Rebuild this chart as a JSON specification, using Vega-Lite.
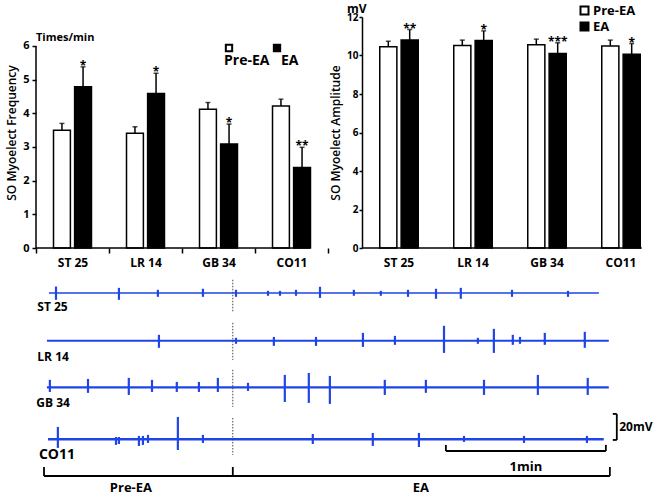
{
  "$schema": "https://vega.github.io/schema/vega-lite/v6.json",
  "padding": {"left": 5, "top": 3, "right": 5, "bottom": 5},
  "background": "white",
  "config": {
    "view": {"stroke": null},
    "font": "Open Sans",
    "axis": {
      "labelFont": "Open Sans", "labelFontWeight": "bold", "labelColor": "black", "labelOverlap": false,
      "titleFont": "Open Sans", "titleFontWeight": 600, "titleColor": "black", "titleFontSize": 12,
      "domainColor": "black", "tickColor": "black", "domainWidth": 1.5, "tickWidth": 1.5, "grid": false
    },
    "legend": {"labelFont": "Open Sans", "labelFontWeight": "bold", "labelColor": "black"}
  },
  "datasets": {
    "freq": [
      {"site": "ST 25", "group": "Pre-EA", "value": 3.5, "upper": 3.7, "star": ""},
      {"site": "ST 25", "group": "EA", "value": 4.79, "upper": 5.38, "star": "*"},
      {"site": "LR 14", "group": "Pre-EA", "value": 3.41, "upper": 3.6, "star": ""},
      {"site": "LR 14", "group": "EA", "value": 4.59, "upper": 5.19, "star": "*"},
      {"site": "GB 34", "group": "Pre-EA", "value": 4.12, "upper": 4.32, "star": ""},
      {"site": "GB 34", "group": "EA", "value": 3.09, "upper": 3.68, "star": "*"},
      {"site": "CO11", "group": "Pre-EA", "value": 4.22, "upper": 4.42, "star": ""},
      {"site": "CO11", "group": "EA", "value": 2.39, "upper": 2.99, "star": "**"}
    ],
    "amp": [
      {"site": "ST 25", "group": "Pre-EA", "value": 10.45, "upper": 10.74, "star": ""},
      {"site": "ST 25", "group": "EA", "value": 10.81, "upper": 11.35, "star": "**"},
      {"site": "LR 14", "group": "Pre-EA", "value": 10.52, "upper": 10.8, "star": ""},
      {"site": "LR 14", "group": "EA", "value": 10.78, "upper": 11.28, "star": "*"},
      {"site": "GB 34", "group": "Pre-EA", "value": 10.56, "upper": 10.85, "star": ""},
      {"site": "GB 34", "group": "EA", "value": 10.1, "upper": 10.66, "star": "***"},
      {"site": "CO11", "group": "Pre-EA", "value": 10.5, "upper": 10.8, "star": ""},
      {"site": "CO11", "group": "EA", "value": 10.07, "upper": 10.62, "star": "*"}
    ],
    "base": [
      {"row": "ST 25", "t0": 0.75, "t1": 207, "v": 155.2},
      {"row": "LR 14", "t0": 0, "t1": 210.7, "v": 118.5},
      {"row": "GB 34", "t0": 0, "t1": 210.7, "v": 82.8},
      {"row": "CO11", "t0": 0.4, "t1": 208.8, "v": 42.8}
    ],
    "spikes": [
      {"row": "ST 25", "t": 3.4, "hi": 160.2, "lo": 150},
      {"row": "ST 25", "t": 27, "hi": 159.2, "lo": 150},
      {"row": "ST 25", "t": 41.6, "hi": 157.7, "lo": 152.3},
      {"row": "ST 25", "t": 58.5, "hi": 158.5, "lo": 152.3},
      {"row": "ST 25", "t": 70.9, "hi": 157.7, "lo": 152.3},
      {"row": "ST 25", "t": 82.9, "hi": 156.9, "lo": 153.1},
      {"row": "ST 25", "t": 87.4, "hi": 156.9, "lo": 153.1},
      {"row": "ST 25", "t": 93.4, "hi": 157.7, "lo": 153.1},
      {"row": "ST 25", "t": 102.4, "hi": 160, "lo": 151.5},
      {"row": "ST 25", "t": 115.1, "hi": 157.7, "lo": 153.1},
      {"row": "ST 25", "t": 125.2, "hi": 156.9, "lo": 153.1},
      {"row": "ST 25", "t": 135.4, "hi": 157.7, "lo": 152.3},
      {"row": "ST 25", "t": 145.9, "hi": 158.5, "lo": 150.8},
      {"row": "ST 25", "t": 155.2, "hi": 159.2, "lo": 150.8},
      {"row": "ST 25", "t": 174.4, "hi": 157.7, "lo": 152.3},
      {"row": "ST 25", "t": 195.4, "hi": 156.9, "lo": 152.3},
      {"row": "LR 14", "t": 42, "hi": 123.1, "lo": 113.1},
      {"row": "LR 14", "t": 70.9, "hi": 120.8, "lo": 116.2},
      {"row": "LR 14", "t": 85.1, "hi": 121.5, "lo": 114.6},
      {"row": "LR 14", "t": 100.9, "hi": 121.5, "lo": 114.6},
      {"row": "LR 14", "t": 118.5, "hi": 124.6, "lo": 113.8},
      {"row": "LR 14", "t": 130.5, "hi": 122.3, "lo": 115.4},
      {"row": "LR 14", "t": 148.9, "hi": 130, "lo": 109.2},
      {"row": "LR 14", "t": 161.6, "hi": 120.8, "lo": 116.2},
      {"row": "LR 14", "t": 167.6, "hi": 127.7, "lo": 109.2},
      {"row": "LR 14", "t": 174.7, "hi": 123.1, "lo": 115.4},
      {"row": "LR 14", "t": 177.4, "hi": 121.5, "lo": 116.2},
      {"row": "LR 14", "t": 186.7, "hi": 124.6, "lo": 115.4},
      {"row": "LR 14", "t": 201.7, "hi": 125.4, "lo": 113.1},
      {"row": "GB 34", "t": 1.1, "hi": 88.5, "lo": 79.2},
      {"row": "GB 34", "t": 15.4, "hi": 89.2, "lo": 78.5},
      {"row": "GB 34", "t": 30.7, "hi": 90, "lo": 76.9},
      {"row": "GB 34", "t": 39.4, "hi": 88.5, "lo": 79.2},
      {"row": "GB 34", "t": 48.7, "hi": 86.9, "lo": 79.2},
      {"row": "GB 34", "t": 57, "hi": 86.9, "lo": 79.2},
      {"row": "GB 34", "t": 64.1, "hi": 90, "lo": 79.2},
      {"row": "GB 34", "t": 75.4, "hi": 86.2, "lo": 80},
      {"row": "GB 34", "t": 89.2, "hi": 92.3, "lo": 71.5},
      {"row": "GB 34", "t": 98.2, "hi": 93.8, "lo": 70.8},
      {"row": "GB 34", "t": 106.1, "hi": 91.5, "lo": 70},
      {"row": "GB 34", "t": 126.7, "hi": 88.5, "lo": 76.9},
      {"row": "GB 34", "t": 142.1, "hi": 88.5, "lo": 78.5},
      {"row": "GB 34", "t": 163.9, "hi": 88.5, "lo": 76.9},
      {"row": "GB 34", "t": 184.1, "hi": 92.3, "lo": 76.9},
      {"row": "GB 34", "t": 202.8, "hi": 90, "lo": 76.9},
      {"row": "CO11", "t": 4.1, "hi": 52.3, "lo": 36.2},
      {"row": "CO11", "t": 25.9, "hi": 44.6, "lo": 38.5},
      {"row": "CO11", "t": 27, "hi": 44.6, "lo": 39.2},
      {"row": "CO11", "t": 34.5, "hi": 45.4, "lo": 37.7},
      {"row": "CO11", "t": 36, "hi": 45.4, "lo": 38.5},
      {"row": "CO11", "t": 37.9, "hi": 46.2, "lo": 40},
      {"row": "CO11", "t": 49.1, "hi": 60, "lo": 34.6},
      {"row": "CO11", "t": 58.5, "hi": 46.2, "lo": 40},
      {"row": "CO11", "t": 99.7, "hi": 46.9, "lo": 39.2},
      {"row": "CO11", "t": 122.2, "hi": 47.7, "lo": 37.7},
      {"row": "CO11", "t": 139.5, "hi": 47.7, "lo": 36.9},
      {"row": "CO11", "t": 156.4, "hi": 45.4, "lo": 40.8},
      {"row": "CO11", "t": 178.9, "hi": 45.4, "lo": 40},
      {"row": "CO11", "t": 202.5, "hi": 45.4, "lo": 40}
    ],
    "dotted": [
      {"t": 69.7, "y1": 165.4, "y2": 140.8},
      {"t": 69.7, "y1": 132.3, "y2": 103.8},
      {"t": 69.7, "y1": 96.2, "y2": 67.7},
      {"t": 69.7, "y1": 59.2, "y2": 30.8}
    ],
    "segments": [
      {"part": "20mV bar", "x1": 213.7, "x2": 213.7, "y1": 62.3, "y2": 42.3},
      {"part": "20mV cap top", "x1": 212.2, "x2": 213.7, "y1": 62.3, "y2": 62.3},
      {"part": "20mV cap bottom", "x1": 212.2, "x2": 213.7, "y1": 42.3, "y2": 42.3},
      {"part": "1min bar", "x1": 149.6, "x2": 209.6, "y1": 33.8, "y2": 33.8},
      {"part": "1min left", "x1": 149.6, "x2": 149.6, "y1": 33.8, "y2": 38.5},
      {"part": "1min right", "x1": 209.6, "x2": 209.6, "y1": 33.8, "y2": 38.5},
      {"part": "bracket", "x1": -1.1, "x2": 211.1, "y1": 14.6, "y2": 14.6},
      {"part": "bracket left", "x1": -1.1, "x2": -1.1, "y1": 14.6, "y2": 21.5},
      {"part": "bracket mid", "x1": 69.7, "x2": 69.7, "y1": 14.6, "y2": 21.5},
      {"part": "bracket right", "x1": 211.1, "x2": 211.1, "y1": 14.6, "y2": 21.5}
    ],
    "rowlabels": [
      {"label": "ST 25", "t": -3.6, "v": 144.6},
      {"label": "LR 14", "t": -3.6, "v": 106.2},
      {"label": "GB 34", "t": -4, "v": 70.8},
      {"label": "CO11", "t": -3, "v": 30.8}
    ],
    "notes": [
      {"label": "1min", "t": 179.6, "v": 21.5},
      {"label": "Pre-EA", "t": 31.5, "v": 5.6},
      {"label": "EA", "t": 140.2, "v": 5.6}
    ],
    "scalenote": [
      {"label": "20mV", "t": 214.6, "v": 52.3}
    ]
  },
  "spacing": 11,
  "resolve": {"scale": {"fill": "independent", "xOffset": "independent", "strokeWidth": "independent"}, "legend": {"fill": "independent"}},
  "vconcat": [
    {
      "spacing": 34,
      "bounds": "flush",
      "resolve": {"scale": {"fill": "independent", "xOffset": "independent"}, "legend": {"fill": "independent"}},
      "hconcat": [
        {
          "width": 292,
          "height": 231,
          "data": {"name": "freq"},
          "encoding": {
            "x": {"field": "site", "type": "nominal", "sort": ["ST 25", "LR 14", "GB 34", "CO11"],
                  "scale": {"domain": ["ST 25", "LR 14", "GB 34", "CO11"], "paddingInner": 0, "paddingOuter": 0},
                  "axis": {"title": null, "labelAngle": 0, "domain": false, "ticks": true, "tickBand": "extent", "tickSize": 5, "labelPadding": 4, "labelFontSize": 12}}
          },
          "layer": [
            {
              "mark": {"type": "bar", "stroke": "black", "strokeWidth": 1.5},
              "encoding": {
                "xOffset": {"field": "group", "type": "nominal", "scale": {"domain": ["Pre-EA", "EA"], "paddingInner": 0.2, "paddingOuter": 0.83}},
                "y": {"field": "value", "type": "quantitative", "scale": {"domain": [0, 6.86], "nice": false},
                      "axis": {"title": "SO Myoelect Frequency", "values": [0, 1, 2, 3, 4, 5, 6], "tickCount": 7, "labelOverlap": false, "domain": false, "tickSize": 4, "labelFontSize": 11, "labelPadding": 3, "titlePadding": 4}},
                "fill": {"field": "group", "type": "nominal", "scale": {"domain": ["Pre-EA", "EA"], "range": ["white", "black"]},
                         "legend": {"orient": "none", "legendX": 186, "legendY": 24, "direction": "horizontal", "columns": 2, "title": null,
                                    "symbolType": "square", "symbolSize": 40, "symbolStrokeColor": "black", "symbolStrokeWidth": 2,
                                    "labelFontSize": 14, "labelOffset": 0, "columnPadding": -2,
                                    "encode": {"labels": {"update": {"dy": {"value": 13}, "dx": {"signal": "datum.value === 'Pre-EA' ? -12 : -3"}}}}}}
              }
            },
            {
              "mark": {"type": "rule", "color": "black", "strokeWidth": 1.5},
              "encoding": {
                "xOffset": {"field": "group", "type": "nominal"},
                "y": {"field": "value", "type": "quantitative"},
                "y2": {"field": "upper"}
              }
            },
            {
              "mark": {"type": "tick", "color": "black", "thickness": 1.5, "size": 5, "orient": "horizontal"},
              "encoding": {
                "xOffset": {"field": "group", "type": "nominal"},
                "y": {"field": "upper", "type": "quantitative"}
              }
            },
            {
              "mark": {"type": "text", "fontWeight": "bold", "fontSize": 12, "baseline": "alphabetic", "dy": 3, "font": "Open Sans"},
              "encoding": {
                "xOffset": {"field": "group", "type": "nominal"},
                "y": {"field": "upper", "type": "quantitative"},
                "text": {"field": "star"}
              }
            },
            {
              "transform": [{"filter": "datum.site == 'ST 25' && datum.group == 'EA'"}],
              "mark": {"type": "rule", "color": "black", "strokeWidth": 1.5},
              "encoding": {
                "x": {"datum": "ST 25", "bandPosition": 0},
                "y": {"datum": 0},
                "y2": {"datum": 6}
              }
            },
            {
              "transform": [{"filter": "datum.site == 'ST 25' && datum.group == 'EA'"}],
              "mark": {"type": "rule", "color": "black", "strokeWidth": 1.5},
              "encoding": {
                "x": {"datum": "ST 25", "bandPosition": 0},
                "x2": {"datum": "CO11", "bandPosition": 0.75},
                "y": {"datum": 0}
              }
            },
            {
              "transform": [{"filter": "datum.site == 'ST 25' && datum.group == 'EA'"}],
              "mark": {"type": "text", "text": "Times/min", "align": "left", "baseline": "alphabetic", "dx": 0, "dy": -5, "fontSize": 11, "fontWeight": "bold", "font": "Open Sans"},
              "encoding": {
                "x": {"datum": "ST 25", "bandPosition": 0},
                "y": {"datum": 6}
              }
            }
          ]
        },
        {
          "width": 296,
          "height": 231,
          "data": {"name": "amp"},
          "encoding": {
            "x": {"field": "site", "type": "nominal", "sort": ["ST 25", "LR 14", "GB 34", "CO11"],
                  "scale": {"domain": ["ST 25", "LR 14", "GB 34", "CO11"], "paddingInner": 0, "paddingOuter": 0},
                  "axis": {"title": null, "labelAngle": 0, "domain": false, "ticks": false, "tickSize": 0, "labelPadding": 9, "labelFontSize": 12}}
          },
          "layer": [
            {
              "mark": {"type": "bar", "stroke": "black", "strokeWidth": 1.5},
              "encoding": {
                "xOffset": {"field": "group", "type": "nominal", "scale": {"domain": ["Pre-EA", "EA"], "paddingInner": 0.2, "paddingOuter": 0.83}},
                "y": {"field": "value", "type": "quantitative", "scale": {"domain": [0, 12], "nice": false},
                      "axis": {"title": "SO Myoelect Amplitude", "values": [0, 2, 4, 6, 8, 10, 12], "tickCount": 7, "labelOverlap": false, "tickSize": 3, "labelFontSize": 10, "labelPadding": 1, "titlePadding": 4}},
                "fill": {"field": "group", "type": "nominal", "scale": {"domain": ["Pre-EA", "EA"], "range": ["white", "black"]},
                         "legend": {"orient": "none", "legendX": 216, "legendY": -13, "direction": "vertical", "title": null,
                                    "symbolType": "square", "symbolSize": 64, "symbolStrokeColor": "black", "symbolStrokeWidth": 2,
                                    "labelFontSize": 13, "labelOffset": 2, "rowPadding": -1}}
              }
            },
            {
              "mark": {"type": "rule", "color": "black", "strokeWidth": 1.5},
              "encoding": {
                "xOffset": {"field": "group", "type": "nominal"},
                "y": {"field": "value", "type": "quantitative"},
                "y2": {"field": "upper"}
              }
            },
            {
              "mark": {"type": "tick", "color": "black", "thickness": 1.5, "size": 5, "orient": "horizontal"},
              "encoding": {
                "xOffset": {"field": "group", "type": "nominal"},
                "y": {"field": "upper", "type": "quantitative"}
              }
            },
            {
              "mark": {"type": "text", "fontWeight": "bold", "fontSize": 12, "baseline": "alphabetic", "dy": 3, "font": "Open Sans"},
              "encoding": {
                "xOffset": {"field": "group", "type": "nominal"},
                "y": {"field": "upper", "type": "quantitative"},
                "text": {"field": "star"}
              }
            },
            {
              "transform": [{"filter": "datum.site == 'ST 25' && datum.group == 'EA'"}],
              "mark": {"type": "rule", "color": "black", "strokeWidth": 1.5},
              "encoding": {
                "x": {"datum": "ST 25", "bandPosition": 0},
                "x2": {"datum": "CO11", "bandPosition": 0.78},
                "y": {"datum": 0}
              }
            },
            {
              "transform": [{"filter": "datum.site == 'ST 25' && datum.group == 'EA'"}],
              "mark": {"type": "text", "text": "mV", "align": "left", "baseline": "alphabetic", "dx": -15, "dy": -4, "fontSize": 12, "fontWeight": "bold", "font": "Open Sans"},
              "encoding": {
                "x": {"datum": "ST 25", "bandPosition": 0},
                "y": {"datum": 12}
              }
            }
          ]
        }
      ]
    },
    {
      "width": 620,
      "height": 216,
      "layer": [
        {
          "data": {"name": "base"},
          "mark": {"type": "rule", "color": "#1f45e6"},
          "encoding": {
            "x": {"field": "t0", "type": "quantitative", "scale": {"domain": [-4.1, 228.4], "nice": false, "zero": false}, "axis": null},
            "x2": {"field": "t1"},
            "y": {"field": "v", "type": "quantitative", "scale": {"domain": [0, 166], "nice": false}, "axis": null},
            "strokeWidth": {"field": "row", "type": "nominal", "scale": {"domain": ["ST 25", "LR 14", "GB 34", "CO11"], "range": [1.6, 2.6, 3.2, 1]}, "legend": null}
          }
        },
        {
          "data": {"name": "spikes"},
          "mark": {"type": "rule", "color": "#1f45e6", "strokeWidth": 2.2},
          "encoding": {
            "x": {"field": "t", "type": "quantitative", "scale": {"domain": [-4.1, 228.4], "nice": false, "zero": false}, "axis": null},
            "y": {"field": "hi", "type": "quantitative", "scale": {"domain": [0, 166], "nice": false}, "axis": null},
            "y2": {"field": "lo"}
          }
        },
        {
          "data": {"name": "dotted"},
          "mark": {"type": "rule", "color": "#444444", "strokeWidth": 1, "strokeDash": [1.5, 1.5]},
          "encoding": {
            "x": {"field": "t", "type": "quantitative", "scale": {"domain": [-4.1, 228.4], "nice": false, "zero": false}, "axis": null},
            "y": {"field": "y1", "type": "quantitative", "scale": {"domain": [0, 166], "nice": false}, "axis": null},
            "y2": {"field": "y2"}
          }
        },
        {
          "data": {"name": "segments"},
          "mark": {"type": "rule", "color": "black", "strokeWidth": 1.8},
          "encoding": {
            "x": {"field": "x1", "type": "quantitative", "scale": {"domain": [-4.1, 228.4], "nice": false, "zero": false}, "axis": null},
            "x2": {"field": "x2"},
            "y": {"field": "y1", "type": "quantitative", "scale": {"domain": [0, 166], "nice": false}, "axis": null},
            "y2": {"field": "y2"}
          }
        },
        {
          "data": {"name": "rowlabels"},
          "transform": [{"filter": "datum.label != 'CO11'"}],
          "mark": {"type": "text", "align": "left", "baseline": "middle", "fontSize": 12, "fontWeight": "bold", "font": "Open Sans"},
          "encoding": {
            "x": {"field": "t", "type": "quantitative", "scale": {"domain": [-4.1, 228.4], "nice": false, "zero": false}, "axis": null},
            "y": {"field": "v", "type": "quantitative", "scale": {"domain": [0, 166], "nice": false}, "axis": null},
            "text": {"field": "label"}
          }
        },
        {
          "data": {"name": "rowlabels"},
          "transform": [{"filter": "datum.label == 'CO11'"}],
          "mark": {"type": "text", "align": "left", "baseline": "middle", "fontSize": 14, "fontWeight": "bold", "font": "Open Sans"},
          "encoding": {
            "x": {"field": "t", "type": "quantitative", "scale": {"domain": [-4.1, 228.4], "nice": false, "zero": false}, "axis": null},
            "y": {"field": "v", "type": "quantitative", "scale": {"domain": [0, 166], "nice": false}, "axis": null},
            "text": {"field": "label"}
          }
        },
        {
          "data": {"name": "notes"},
          "mark": {"type": "text", "align": "center", "baseline": "middle", "fontSize": 13, "fontWeight": "bold", "font": "Open Sans"},
          "encoding": {
            "x": {"field": "t", "type": "quantitative", "scale": {"domain": [-4.1, 228.4], "nice": false, "zero": false}, "axis": null},
            "y": {"field": "v", "type": "quantitative", "scale": {"domain": [0, 166], "nice": false}, "axis": null},
            "text": {"field": "label"}
          }
        },
        {
          "data": {"name": "scalenote"},
          "mark": {"type": "text", "align": "left", "baseline": "middle", "fontSize": 12, "fontWeight": "bold", "font": "Open Sans"},
          "encoding": {
            "x": {"field": "t", "type": "quantitative", "scale": {"domain": [-4.1, 228.4], "nice": false, "zero": false}, "axis": null},
            "y": {"field": "v", "type": "quantitative", "scale": {"domain": [0, 166], "nice": false}, "axis": null},
            "text": {"field": "label"}
          }
        }
      ]
    }
  ]
}
